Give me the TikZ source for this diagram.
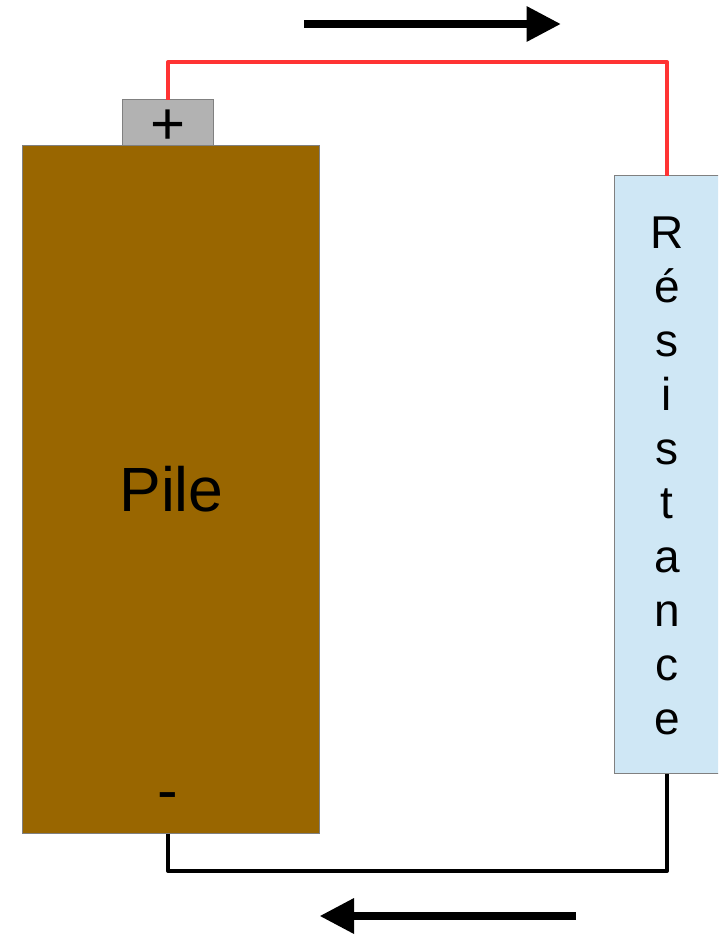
\documentclass[tikz,border=0pt]{standalone}
\usepackage{fontspec}
\setmainfont{Liberation Sans}
\usetikzlibrary{arrows.meta}
\definecolor{brownbox}{HTML}{996600}
\definecolor{greybox}{HTML}{B2B2B2}
\definecolor{bluebox}{HTML}{CFE7F5}
\definecolor{edgegrey}{HTML}{808080}
\definecolor{wirered}{HTML}{FF3333}
\tikzset{
  boxshape/.style={draw=edgegrey,line width=1pt,inner sep=0pt,outer sep=0pt},
  wire/.style={line width=4pt,line join=round},
  flow/.style={line width=8pt,-{Triangle[length=34.5pt,width=33.5pt]}},
  lbl/.style={inner sep=0pt,outer sep=0pt,text=black}
}
\begin{document}
\begin{tikzpicture}[x=1pt,y=-1pt]
\useasboundingbox (0,0) rectangle (718,935);
\begin{scope}
\clip (0,0) rectangle (718,935);
\node[boxshape,fill=brownbox,minimum width=296.8pt,minimum height=688pt] (pile) at (170.7,489.5) {};
\node[boxshape,fill=greybox,minimum width=91pt,minimum height=46pt] (term) at (168,122.5) {};
\node[boxshape,fill=bluebox,minimum width=110pt,minimum height=598pt] (res) at (669,474.5) {};
\end{scope}
\node[lbl,font=\fontsize{62.5}{62.5}\selectfont,anchor=base] (piletext) at (171.5,511) {Pile};
\node[lbl,font=\fontsize{60}{60}\selectfont,anchor=base] (plus) at (168,144) {+};
\node[lbl,font=\fontsize{62}{62}\selectfont,anchor=base] (minus) at (168,811) {-};
\node[lbl,font=\fontsize{46}{54}\selectfont,align=center,anchor=center] (restext) at (667,475.6)
  {R\\é\\s\\i\\s\\t\\a\\n\\c\\e};
\coordinate (redtop) at (term.north |- 0,62);
\coordinate (blackcorner) at (term.south |- 0,871);
\coordinate (resin) at (667,175.5);
\coordinate (resout) at (667,773.5);
\draw[wire,wirered] (term.north) -- (redtop) -| (resin);
\draw[wire,black] (term.center |- pile.south) -- (blackcorner) -| (resout);
\coordinate (a1s) at (304,24);
\coordinate (a1e) at (561,24);
\coordinate (a2s) at (576,916);
\coordinate (a2e) at (319.5,916);
\draw[flow] (a1s) -- (a1e);
\draw[flow] (a2s) -- (a2e);
\end{tikzpicture}
\end{document}
